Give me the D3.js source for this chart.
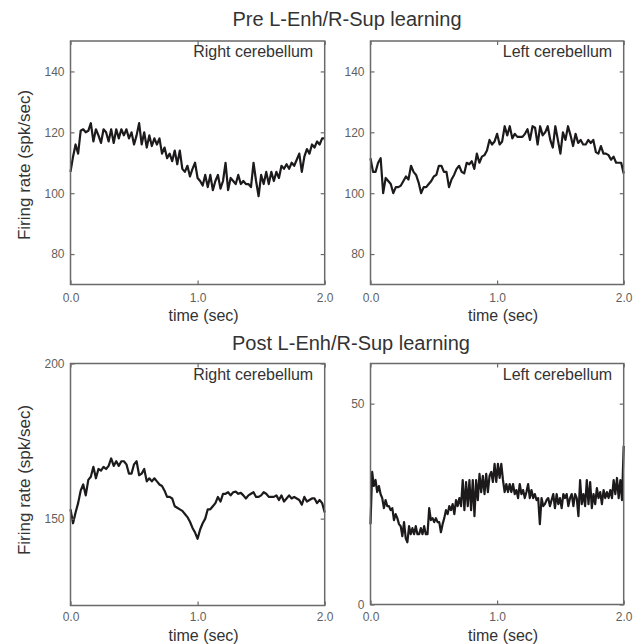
<!DOCTYPE html>
<html><head><meta charset="utf-8">
<script src="https://cdn.jsdelivr.net/npm/d3@7"></script>
<style>body{margin:0;background:#fff}svg{display:block}</style>
</head><body>
<script>
// ---- data ----
const titles = ["Pre L-Enh/R-Sup learning", "Post L-Enh/R-Sup learning"];
const panelLabels = ["Right cerebellum", "Left cerebellum", "Right cerebellum", "Left cerebellum"];
const xTicks = [0, 1, 2];
const yTicksPre = [80, 100, 120, 140];
const yTicksPostRight = [150, 200];
const yTicksPostLeft = [0, 50];
const yDomainPre = [70, 150];
const yDomainPostRight = [122, 200];
const yDomainPostLeft = [0, 60];
const timeSpan = [0, 2];

const preRight = [107,112,116,113,120.5,121,120,120.5,123,117,121,119,116.5,121,120,117,121,116.5,121,118,121,119,121,118,120,116,119,123,116,120,115,119,115.5,118,116,118,113,115,111.5,113,110.5,114,109.5,114,108,107,109,105.5,108,110,105,104,102.5,106,102,106,101,104,106,101.5,104,110,101,105,104,103,106,103,104,103,103,102,110,104,99,106,103,107,103,107,104,107,105,109,108,109.5,108,110,109,111,113,107,112,114.5,113,116,115,117,116,118,118];
const preLeft = [111.5,107,107,110,111.5,100,105,104,103,100,102,102,102.5,104,105.5,104.5,109,107,106,103.5,100,102,102,103,104,105.5,106,109,109,107,107,102,104.5,106,108,109,107,106.5,110,109.5,110.5,108,113,110,112,112.5,114,117.5,116,117,119.5,116,117,122,119,122,118,119.5,118.5,118.5,118.5,119.5,121,117.5,122,121.5,116,122,119,120,122,117.5,115,122,117.5,113,120,117.5,122,119,115.5,119.5,116.5,117.5,116,116,117.5,116.5,117.5,113.5,113,115.5,113,113,112.5,111,112,110,110,110,106.5];
const postRight = [153,148.5,152,155,159,161,157.5,162.5,163.5,166.7,163,166,165.5,166.7,166,167,169.4,167,168.5,167,168.5,168.5,167.5,164.5,164.5,167.5,168.5,164,164.5,166,162,163,162,163,162,161,160.5,159,157,157,156.5,154,153.5,153,152.5,151.5,150.5,149,147,145.5,143.5,146.5,148.5,150,153,153,154,155,157,155.5,158,158,158.5,157.5,158.5,158.7,158,158.3,157.5,156.5,157.5,158,158.5,157,157,157.5,158.5,158,157,157,157,157.5,156,157.5,155.5,156.5,157.5,156.5,157,156.5,156,154.5,157,155.5,156,156.5,156.5,155,156,155,152];
const postLeft = [20,33,29.5,31,28,29.5,27.5,26.5,24,26,24.5,24.5,23.5,24,21,22.5,21.5,20,19.5,17,20.5,16.5,15.5,19.5,17.5,19,17.5,19.5,17.5,17.5,19,17.5,19.5,17.5,17.5,24,21,21.5,20.5,21.5,20.5,20.5,18,20,21.5,23.5,22.5,24.5,23.5,25,22.5,26,24.5,26.5,24.5,31,23.5,30.5,24.5,31,23.5,31,22,31,26,32.5,28,32,27.5,32.5,28,32,33,30.5,35,30.5,35,31.5,35,31,28,30,28,30,28,30,27.5,28.5,26.5,30,27.5,28.5,26.5,28,30,26.5,28.5,26.5,27.5,26,26.5,20,26.5,24.5,25,26,26.5,24.5,26,27.5,24,27.5,25,26.5,24,27.5,26.5,27.5,24.5,26.5,27.5,24.5,27.5,26.5,22,31,25,27.5,24.5,31,25,30.5,24,27.5,25,29,26.5,28,25,28.5,26.5,28,26.5,28.5,26.5,31,27.5,31.5,26.5,31,26,39.5];

// ---- layout ----
const W = 640, H = 644;
const svg = d3.select("body").append("svg").attr("width", W).attr("height", H);
const font = "Liberation Sans, Arial, Helvetica, sans-serif";

const panels = [
  {x0: 70.5, x1: 324.7, y0: 41, y1: 284.5, dom: yDomainPre, ticks: yTicksPre, data: preRight, label: panelLabels[0], pad: 9, timeDy: 36, yLabelY: 165},
  {x0: 370.5, x1: 623.7, y0: 41, y1: 284.5, dom: yDomainPre, ticks: yTicksPre, data: preLeft, label: panelLabels[1], pad: 9, timeDy: 36},
  {x0: 70.5, x1: 324.7, y0: 363.5, y1: 605.5, dom: yDomainPostRight, ticks: yTicksPostRight, data: postRight, label: panelLabels[2], pad: 7, timeDy: 35, yLabelY: 480},
  {x0: 370.5, x1: 623.7, y0: 363.5, y1: 604.5, dom: yDomainPostLeft, ticks: yTicksPostLeft, data: postLeft, label: panelLabels[3], pad: 8, timeDy: 36}
];

const axisColor = "#6a6a6a";
const tickTextColor = "#5f5f5f";

panels.forEach((p, i) => {
  const w = p.x1 - p.x0, h = p.y1 - p.y0;
  const x = d3.scaleLinear().domain(timeSpan).range([0, w]);
  const y = d3.scaleLinear().domain(p.dom).range([h, 0]);
  const g = svg.append("g").attr("transform", `translate(${p.x0},${p.y0})`);

  const n = p.data.length;
  const tStep = (timeSpan[1] - timeSpan[0]) / (n - 1);
  const pts = p.data.map((v, k) => [timeSpan[0] + k * tStep, v]);

  const line = d3.line().x(d => x(d[0])).y(d => y(d[1]));
  g.append("path").datum(pts).attr("d", line)
    .attr("fill", "none").attr("stroke", "#1c1a1a").attr("stroke-width", 2.2)
    .attr("stroke-linejoin", "round");

  const styleAxis = sel => {
    sel.style("color", tickTextColor);
    sel.select(".domain").remove();
    sel.selectAll("line").attr("stroke", axisColor).attr("stroke-width", 1.2);
    sel.selectAll("text").attr("fill", tickTextColor).style("font-family", font).style("font-size", "12px");
  };

  g.append("g").attr("transform", `translate(0,${h})`)
    .call(d3.axisBottom(x).tickValues(xTicks).tickFormat(d3.format(".1f")).tickSizeInner(-4).tickSizeOuter(0).tickPadding(p.pad))
    .call(styleAxis);
  g.append("g")
    .call(d3.axisTop(x).tickValues(xTicks).tickFormat("").tickSizeInner(-4).tickSizeOuter(0))
    .call(styleAxis);
  g.append("g")
    .call(d3.axisLeft(y).tickValues(p.ticks).tickFormat(d3.format("d")).tickSizeInner(-4).tickSizeOuter(0).tickPadding(6))
    .call(styleAxis);
  g.append("g").attr("transform", `translate(${w},0)`)
    .call(d3.axisRight(y).tickValues(p.ticks).tickFormat("").tickSizeInner(-4).tickSizeOuter(0))
    .call(styleAxis);

  g.append("rect").attr("width", w).attr("height", h)
    .attr("fill", "none").attr("stroke", axisColor).attr("stroke-width", 1.5);

  g.append("text").attr("x", w - 11.5).attr("y", 16)
    .attr("text-anchor", "end").attr("fill", "#333")
    .style("font-family", font).style("font-size", "16px").text(p.label);

  g.append("text").attr("x", w / 2 + 6).attr("y", h + p.timeDy)
    .attr("text-anchor", "middle").attr("fill", "#333")
    .style("font-family", font).style("font-size", "16px").text("time (sec)");

  if (p.yLabelY !== undefined) {
    svg.append("text")
      .attr("transform", `translate(30,${p.yLabelY}) rotate(-90)`)
      .attr("text-anchor", "middle").attr("fill", "#333")
      .style("font-family", font).style("font-size", "17px").text("Firing rate (spk/sec)");
  }
});

svg.append("text").attr("x", 347).attr("y", 26).attr("text-anchor", "middle").attr("fill", "#333")
  .style("font-family", font).style("font-size", "20px").text(titles[0]);
svg.append("text").attr("x", 351).attr("y", 350).attr("text-anchor", "middle").attr("fill", "#333")
  .style("font-family", font).style("font-size", "20px").text(titles[1]);
</script>
</body></html>
